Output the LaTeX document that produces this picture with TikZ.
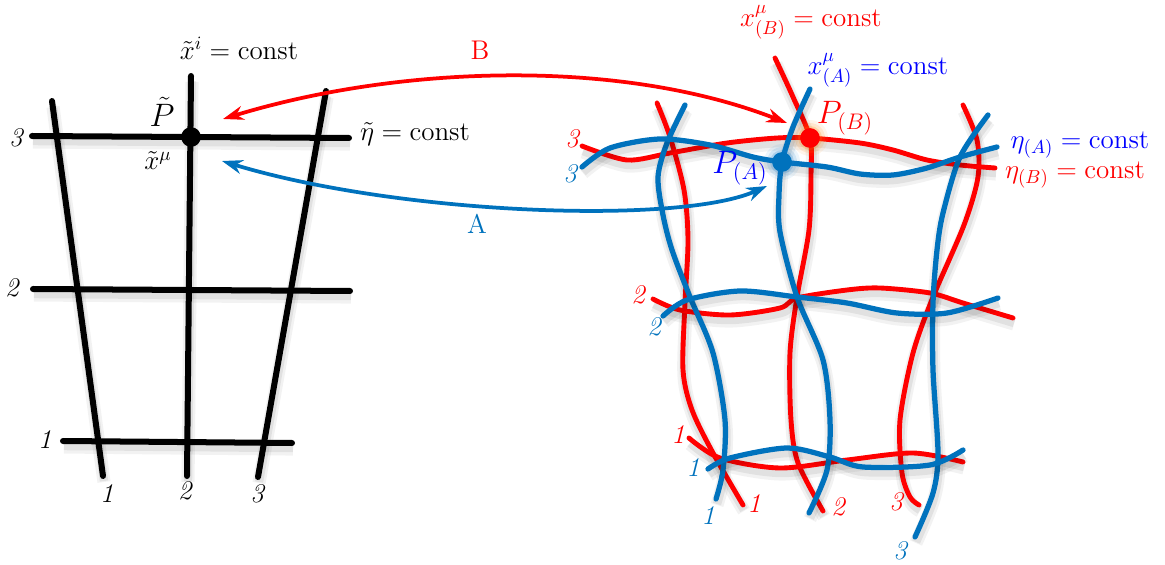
\documentclass[tikz,border=0pt]{standalone}
\usetikzlibrary{arrows.meta}
\definecolor{matblue}{RGB}{0,114,189}
\tikzset{
  shadowed/.style={preaction={draw=black,opacity=0.05,line width=7pt,transform canvas={shift={(1,6)}}},
                   preaction={draw=black,opacity=0.07,line width=4.5pt,transform canvas={shift={(1,5)}}}},
  gridline/.style={line width=3.2pt, line cap=round, shadowed},
  redline/.style={draw=red, line width=2.6pt, line cap=round, shadowed},
  blueline/.style={draw=matblue, line width=2.8pt, line cap=round, shadowed},
  num/.style={font=\Large\itshape},
  dot/.style={circle, inner sep=0pt, minimum size=10.5pt},
}
\begin{document}
\begin{tikzpicture}[x=0.533pt,y=-0.533pt,font=\Large]
\useasboundingbox (0,0) rectangle (1165,565);
% left grid
\draw[gridline] (52,101) -- (103,476);
\draw[gridline] (191,76) -- (187,476);
\draw[gridline] (326,91) -- (258,477);
\draw[gridline] (32,136) -- (349,138);
\draw[gridline] (33,289) -- (350,291);
\draw[gridline] (63,441) -- (292,443);
\node[num] (l3) at (16,138) {3};
\node[num] (l2) at (12,288) {2};
\node[num] (l1) at (45,440) {1};
\node[num] (b1) at (107,494) {1};
\node[num] (b2) at (185,491) {2};
\node[num] (b3) at (257,494) {3};
\node[dot, fill=black] (Pt) at (191,137) {};
\node (xi) at (239,48) {$\tilde{x}^i = \mathrm{const}$};
\node (etat) at (415,134) {$\tilde{\eta} = \mathrm{const}$};
\node[font=\LARGE] (Ptl) at (162,112) {$\tilde{P}$};
\node (xmu) at (158,161) {$\tilde{x}^\mu$};

% right grid, coordinates B
\draw[redline] plot[smooth] coordinates {(657,103) (670,137) (684,190) (688,240) (685,303) (683,370) (692,410) (713,453) (743,505)};
\draw[redline] plot[smooth] coordinates {(775,58) (793,97) (810,138) (811,175) (809,230) (797,297) (790,353) (791,420) (798,463) (823,511)};
\draw[redline] plot[smooth] coordinates {(963,105) (977,140) (978,177) (964,225) (933,297) (913,353) (900,420) (902,473) (910,497) (919,505)};
\draw[redline] plot[smooth] coordinates {(582,146) (627,160) (670,153) (727,143) (777,138) (810,138) (860,143) (893,150) (927,160) (960,165) (995,168)};
\draw[redline] plot[smooth] coordinates {(653,299) (680,310) (730,315) (780,308) (797,298) (847,290) (880,288) (930,293) (963,303) (1013,318)};
\draw[redline] plot[smooth] coordinates {(689,438) (720,458) (780,468) (847,460) (913,453) (963,462)};

% right grid, coordinates A
\draw[blueline] plot[smooth] coordinates {(685,105) (667,143) (658,177) (663,215) (672,250) (690,297) (713,353) (725,420) (723,470) (716,499)};
\draw[blueline] plot[smooth] coordinates {(810,89) (793,127) (782,162) (779,195) (780,232) (797,297) (823,360) (830,420) (827,470) (809,513)};
\draw[blueline] plot[smooth] coordinates {(988,115) (960,157) (943,213) (937,250) (933,303) (933,370) (938,453) (933,493) (915,537)};
\draw[blueline] plot[smooth] coordinates {(582,167) (610,148) (660,139) (710,145) (753,157) (782,162) (827,167) (860,174) (893,175) (927,168) (960,157) (997,147)};
\draw[blueline] plot[smooth] coordinates {(663,316) (687,300) (740,291) (797,297) (847,303) (897,313) (947,313) (998,298)};
\draw[blueline] plot[smooth] coordinates {(708,469) (730,458) (787,448) (830,457) (863,467) (930,465) (963,450)};

% glowing points
\foreach \r/\o in {18/0.08,15/0.12,12/0.2}{
  \fill[orange, opacity=\o] (810,138) circle (\r);
  \fill[cyan!60!blue, opacity=\o] (782,162) circle (\r);
}
\node[dot, fill=red] (PB) at (810,138) {};
\node[dot, fill=matblue] (PA) at (782,162) {};

% right labels
\node[num, red] (r3) at (572,139) {3};
\node[num, matblue] (a3) at (570,174) {3};
\node[num, red] (r2) at (638,295) {2};
\node[num, matblue] (a2) at (654,327) {2};
\node[num, red] (r1) at (678,435) {1};
\node[num, matblue] (a1) at (693,468) {1};
\node[num, matblue] (a1b) at (708,516) {1};
\node[num, red] (r1b) at (754,504) {1};
\node[num, red] (r2b) at (838,507) {2};
\node[num, red] (r3b) at (896,502) {3};
\node[num, matblue] (a3b) at (900,551) {3};
\node[red] (xB) at (811,22) {$x^\mu_{(B)} = \mathrm{const}$};
\node[blue] (xA) at (878,70) {$x^\mu_{(A)} = \mathrm{const}$};
\node[red, font=\LARGE] (PBl) at (845,118) {$P_{(B)}$};
\node[blue, font=\LARGE] (PAl) at (740,168) {$P_{(A)}$};
\node[blue] (etaA) at (1080,145) {$\eta_{(A)} = \mathrm{const}$};
\node[red] (etaB) at (1075,175) {$\eta_{(B)} = \mathrm{const}$};

% maps
\coordinate (bl) at (223,119);
\coordinate (br) at (787,123);
\coordinate (al) at (222,161);
\coordinate (ar) at (767,186);
\draw[red, line width=2pt, {Stealth[length=11pt,width=7.5pt]}-{Stealth[length=11pt,width=7.5pt]}]
  (bl) .. controls (400,65) and (620,58) .. (br);
\draw[matblue, line width=2pt, {Stealth[length=11pt,width=7.5pt]}-{Stealth[length=11pt,width=7.5pt]}]
  (al) .. controls (400,215) and (680,225) .. (ar);
\node[red] (B) at (480,50) {B};
\node[matblue] (A) at (477,224) {A};
\end{tikzpicture}
\end{document}
